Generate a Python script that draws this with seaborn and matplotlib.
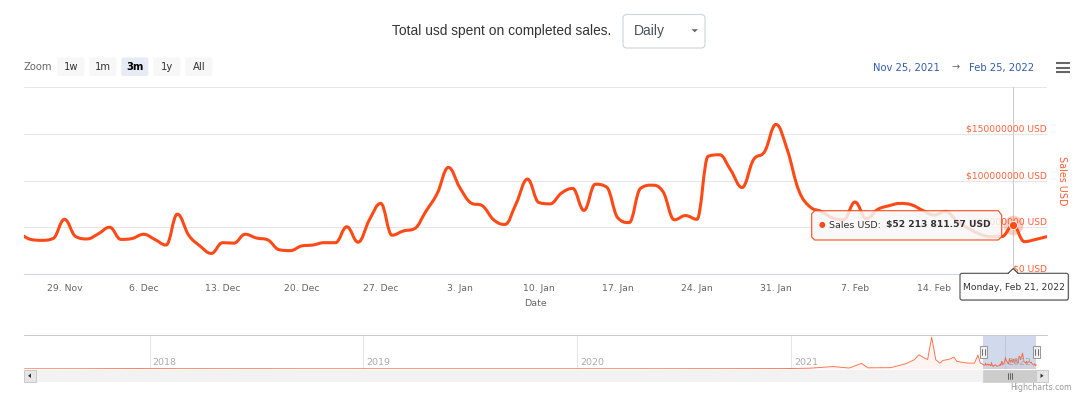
import numpy as np
import pandas as pd
import matplotlib
matplotlib.use("Agg")
import matplotlib.pyplot as plt
import matplotlib.dates as mdates
from matplotlib.path import Path
from matplotlib.patches import PathPatch, FancyBboxPatch, Rectangle, Polygon
from matplotlib.ticker import FuncFormatter
import seaborn as sns

# ---- data -------------------------------------------------------------
# daily sales (millions of USD), 25 Nov 2021 .. 24 Feb 2022
start_day = "2021-11-25"
sales_musd = [
    44, 37, 36, 38, 58.5, 40,                                   # Nov 25-30
    37.5, 43, 50, 37, 38, 42.5, 37, 31, 64, 41.5, 30, 22, 33.5, 33, 42.5,
    38.5, 36.5, 26, 25, 30, 31, 33.5, 33.5, 50.5, 34, 58, 75.5, 41.5, 46,
    48.5, 67,                                                   # Dec
    86, 114, 92.5, 76, 73, 58, 53, 75.5, 101.5, 76.5, 75, 86.5, 91.5, 68,
    96, 93, 60, 55, 91.5, 95, 88, 58, 62.5, 58.5, 126, 127.5, 111, 92.5,
    122, 131, 160,                                              # Jan
    133, 90, 72, 67, 60, 58, 77, 59, 69, 73, 75.5, 74, 68, 63, 67, 57, 49,
    43, 40, 40, 52.21381157, 34.6, 37, 40,                      # Feb 1-24
]
hover_day = "2022-02-21"

# navigator: the whole history (sparse readings before the selected window)
nav_days = [
    "2017-06-01", "2017-09-01", "2017-12-05", "2018-03-01", "2018-09-01",
    "2019-03-01", "2019-09-01", "2020-03-01", "2020-09-01", "2020-12-15",
    "2021-02-01", "2021-03-13", "2021-04-10", "2021-05-01", "2021-05-12",
    "2021-06-20", "2021-07-15", "2021-07-30", "2021-08-07", "2021-08-17",
    "2021-08-22", "2021-08-29", "2021-09-05", "2021-09-12", "2021-09-17",
    "2021-09-29", "2021-10-06", "2021-10-11", "2021-10-30", "2021-11-10",
    "2021-11-16", "2021-11-20",
]
nav_musd = [
    0.1, 0.3, 2.0, 1.0, 0.6, 0.5, 0.5, 0.4, 0.8, 2, 6, 23, 8, 55, 10, 12,
    50, 92, 143, 109, 95, 323, 92, 58, 85, 99, 119, 75, 58, 58, 140, 60,
]
nav_years = ["2018", "2019", "2020", "2021", "2022"]

y_ticks = [0, 50e6, 100e6, 150e6, 200e6]
y_tick_labels = ["$0 USD", "$50000000 USD", "$100000000 USD", "$150000000 USD", ""]
zoom_buttons = ["1w", "1m", "3m", "1y", "All"]
selected_button = "3m"
range_from, range_to = "Nov 25, 2021", "Feb 25, 2022"
view_start, view_end = "2021-11-25 10:00", "2022-02-24"
nav_start, nav_end = "2017-05-31", "2022-03-14"

LINE = "#ff4a17"
LABEL = "#ff5f3a"
GREY = "#666666"


def hc_spline(x, y, smoothing=1.5):
    # same control points as the highcharts "spline" series
    n = len(x)
    denom = smoothing + 1
    lc = [(x[i], y[i]) for i in range(n)]
    rc = [(x[i], y[i]) for i in range(n)]
    for i in range(1, n - 1):
        lx, ly, px, py, qx, qy = x[i - 1], y[i - 1], x[i], y[i], x[i + 1], y[i + 1]
        lcx = (smoothing * px + lx) / denom
        lcy = (smoothing * py + ly) / denom
        rcx = (smoothing * px + qx) / denom
        rcy = (smoothing * py + qy) / denom
        corr = (rcy - lcy) * (rcx - px) / (rcx - lcx) + py - rcy
        lcy += corr
        rcy += corr
        if lcy > ly and lcy > py:
            lcy = max(ly, py); rcy = 2 * py - lcy
        elif lcy < ly and lcy < py:
            lcy = min(ly, py); rcy = 2 * py - lcy
        if rcy > qy and rcy > py:
            rcy = max(qy, py); lcy = 2 * py - rcy
        elif rcy < qy and rcy < py:
            rcy = min(qy, py); lcy = 2 * py - rcy
        lc[i] = (lcx, lcy)
        rc[i] = (rcx, rcy)
    verts = [(x[0], y[0])]
    codes = [Path.MOVETO]
    for i in range(1, n):
        verts += [rc[i - 1], lc[i], (x[i], y[i])]
        codes += [Path.CURVE4] * 3
    return Path(verts, codes)


sns.set_theme(style="white")
plt.rcParams["font.family"] = ["DejaVu Sans"]

W, H = 1080, 397
fig = plt.figure(figsize=(W / 100, H / 100), dpi=100)


def box(l, t, r, b):
    return [l / W, 1 - b / H, (r - l) / W, (b - t) / H]


ax = fig.add_axes(box(24, 87, 1047, 274))
nav = fig.add_axes(box(24, 335, 1047, 369))
ui = fig.add_axes([0, 0, 1, 1])
ui.set_xlim(0, W)
ui.set_ylim(H, 0)
ui.axis("off")

dates = pd.date_range(start_day, periods=len(sales_musd), freq="D")
xs = mdates.date2num(dates.to_pydatetime())
ys = np.array(sales_musd) * 1e6
hover_x = mdates.date2num(pd.Timestamp(hover_day).to_pydatetime())
hover_y = ys[list(dates).index(pd.Timestamp(hover_day))]

# ---- main chart -------------------------------------------------------
ax.add_patch(PathPatch(hc_spline(xs, ys), fill=False, edgecolor=LINE, lw=2.2,
                       capstyle="round", joinstyle="round", zorder=3))
ax.set_xlim(mdates.date2num(pd.Timestamp(view_start).to_pydatetime()),
            mdates.date2num(pd.Timestamp(view_end).to_pydatetime()))
ax.set_ylim(0, 200e6)
ax.set_yticks(y_ticks)
ax.tick_params(axis="y", length=0, labelleft=False)
ax.grid(axis="y", color="#e6e6e6", lw=0.75)
for s in ["left", "right", "top"]:
    ax.spines[s].set_visible(False)
ax.spines["bottom"].set_color("#ccd6eb")
ax.spines["bottom"].set_linewidth(0.75)


def day_label(v, p):
    d = mdates.num2date(v)
    # the tick under the crosshair is hidden by the date label box
    if abs(v - hover_x) < 0.5:
        return ""
    return f"{d.day}. {d:%b}"


ax.xaxis.set_major_locator(mdates.WeekdayLocator(byweekday=mdates.MO))
ax.xaxis.set_major_formatter(FuncFormatter(day_label))
ax.tick_params(axis="x", length=5.8, width=0.75, color="#ccd6eb",
               labelsize=6.7, labelcolor=GREY, pad=1.5)
ax.set_xlabel("Date", fontsize=6.8, color=GREY, labelpad=4)

for v, lab in zip(y_ticks, y_tick_labels):
    ax.annotate(lab, xy=(1, v), xycoords=ax.get_yaxis_transform(),
                xytext=(0, 3.6), textcoords="offset points",
                ha="right", va="center", fontsize=6.6, color=LABEL)

ax.axvline(hover_x, color="#cccccc", lw=0.75, zorder=1)
sns.scatterplot(x=[hover_x], y=[hover_y], ax=ax, s=200, color=LINE,
                alpha=0.25, linewidth=0, zorder=4, legend=False)
sns.scatterplot(x=[hover_x], y=[hover_y], ax=ax, s=34, color=LINE,
                edgecolor="white", linewidth=0.6, zorder=5, legend=False)

# ---- navigator --------------------------------------------------------
nav_dates = pd.to_datetime(nav_days).append(dates)
nx = mdates.date2num(nav_dates.to_pydatetime())
nv = np.concatenate([np.array(nav_musd), np.array(sales_musd)]) * 1e6
nav.fill_between(nx, nv, color=LINE, alpha=0.06, lw=0)
sns.lineplot(x=nx, y=nv, ax=nav, color=LINE, lw=0.7, alpha=0.75)
nav.set_xlim(mdates.date2num(pd.Timestamp(nav_start).to_pydatetime()),
             mdates.date2num(pd.Timestamp(nav_end).to_pydatetime()))
nav.set_ylim(-2e6, 345e6)
nav.set_xticks([])
nav.set_yticks([])
nav.set_xlabel("")
nav.set_ylabel("")
for s in nav.spines.values():
    s.set_visible(False)
for yr in nav_years:
    xv = mdates.date2num(pd.Timestamp(yr).to_pydatetime())
    nav.axvline(xv, color="#e6e6e6", lw=0.75, zorder=0)
    nav.annotate(yr, xy=(xv, 0.2), xycoords=nav.get_xaxis_transform(),
                 xytext=(2, 0), textcoords="offset points", ha="left",
                 va="center", fontsize=6.8, color="#aaaaaa")
nav.plot([0, 1], [1, 1], transform=nav.transAxes, color="#cccccc", lw=0.75,
         clip_on=False)
sel_l, sel_r = ax.get_xlim()
nav.axvspan(sel_l, sel_r, color="#6685c2", alpha=0.3, lw=0)

px_l = nav.transData.transform((sel_l, 0))[0]
px_r = nav.transData.transform((sel_r, 0))[0]
for px in (px_l, px_r):
    ui.add_patch(Rectangle((px - 3.5, 346), 7, 12, fc="#f2f2f2", ec="#999999", lw=0.75))
    for dx in (-1.2, 1.2):
        ui.plot([px + dx, px + dx], [349, 355], color="#333333", lw=0.5)

# scrollbar
ui.add_patch(Rectangle((36, 369.5), 1000, 12.5, fc="#f2f2f2", ec="none"))
ui.add_patch(Rectangle((px_l, 369.5), px_r - px_l, 12.5, fc="#cccccc", ec="#cccccc", lw=0.5))
mid = (px_l + px_r) / 2
for dx in (-2, 0, 2):
    ui.plot([mid + dx, mid + dx], [373, 378.5], color="#333333", lw=0.5)
ui.add_patch(Rectangle((23.5, 369.5), 12.5, 12.5, fc="#e6e6e6", ec="#cccccc", lw=0.75))
ui.add_patch(Polygon([(31, 373.5), (31, 378), (28, 375.8)], fc="#333333", ec="none"))
ui.add_patch(Rectangle((1035.5, 369.5), 12.5, 12.5, fc="#e6e6e6", ec="#cccccc", lw=0.75))
ui.add_patch(Polygon([(1040.5, 373.5), (1040.5, 378), (1043.5, 375.8)], fc="#333333", ec="none"))

# ---- header -----------------------------------------------------------
ui.text(611, 31, "Total usd spent on completed sales.", ha="right", va="center",
        fontsize=9.9, color="#333333", family="Liberation Sans")
ui.add_patch(FancyBboxPatch((623, 14.5), 82, 33.5, boxstyle="round,pad=0,rounding_size=4",
                            fc="white", ec="#ced4da", lw=0.8))
ui.text(634, 31.5, "Daily", ha="left", va="center", fontsize=10, color="#495057",
        family="Liberation Sans")
ui.add_patch(Polygon([(691.5, 29.2), (698, 29.2), (694.7, 32.3)], fc="#666666", ec="none"))

ui.text(24, 67.5, "Zoom", ha="left", va="center", fontsize=7.2, color=GREY)
for i, lab in enumerate(zoom_buttons):
    left = 57.3 + 32 * i
    on = lab == selected_button
    ui.add_patch(FancyBboxPatch((left, 57.5), 27, 18.5, boxstyle="round,pad=0,rounding_size=2",
                                fc="#e6ebf5" if on else "#f7f7f7", ec="none"))
    ui.text(left + 13.5, 67.5, lab, ha="center", va="center", fontsize=7.2,
            color="#000000" if on else "#333333", fontweight="bold" if on else "normal")

ui.text(873, 67.5, range_from, ha="left", va="center", fontsize=7.2, color="#335cad")
ui.text(956, 67.5, "\u2192", ha="center", va="center", fontsize=7, color=GREY)
ui.text(1034, 67.5, range_to, ha="right", va="center", fontsize=7.2, color="#335cad")
for yy in (63, 67.5, 72):
    ui.plot([1056, 1070], [yy, yy], color=GREY, lw=1.5, solid_capstyle="butt")

ui.text(1062, 180.5, "Sales USD", rotation=270, ha="center", va="center",
        fontsize=6.9, color=LABEL)

# ---- tooltip ----------------------------------------------------------
tip = [(814.7, 210.7), (998.3, 210.7), (1001.7, 215), (1001.7, 236.7),
       (998.3, 240), (814.7, 240), (811.7, 237), (811.7, 213.7)]
ui.add_patch(Polygon(tip, closed=True, fc="#f7f7f7", alpha=0.85, ec="none"))
ui.add_patch(Polygon(tip, closed=True, fill=False, ec=LINE, lw=0.8))
ui.text(821.7, 225, "\u25cf", ha="center", va="center", fontsize=5.5, color=LINE)
ui.text(829.3, 225, "Sales USD: ", ha="left", va="center", fontsize=6.8, color="#333333")
hover_txt = "$" + f"{hover_y:,.2f}".replace(",", " ") + " USD"
ui.text(990.7, 225, hover_txt, ha="right", va="center", fontsize=6.6,
        color="#333333", fontweight="bold")

# crosshair date label
hpx = ax.transData.transform((hover_x, 0))[0]
ui.add_patch(FancyBboxPatch((961, 274.3), 108.3, 26.7, boxstyle="round,pad=0,rounding_size=2",
                            fc="#000000", alpha=0.12, ec="none"))
ui.add_patch(FancyBboxPatch((960, 273.3), 108.3, 26.7, boxstyle="round,pad=0,rounding_size=2",
                            fc="#ffffff", alpha=0.95, ec="#444444", lw=0.8))
ui.add_patch(Polygon([(hpx - 5, 274.2), (hpx, 268.6), (hpx + 5, 274.2)], fc="white", ec="none"))
ui.plot([hpx - 5, hpx, hpx + 5], [273.3, 268.6, 273.3], color="#444444", lw=0.8)
ui.text(1014, 287.5, pd.Timestamp(hover_day).strftime("%A, %b %d, %Y"), ha="center",
        va="center", fontsize=6.6, color="#333333")

ui.text(1072, 388, "Highcharts.com", ha="right", va="center", fontsize=5.6, color="#999999")

fig.savefig("out.png", dpi=100)
